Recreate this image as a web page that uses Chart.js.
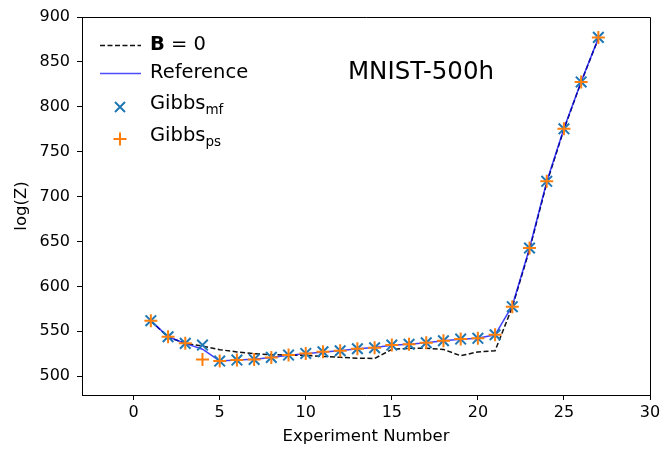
<!DOCTYPE html>
<html>
<head>
<meta charset="utf-8">
<script src="https://cdn.jsdelivr.net/npm/chart.js@4"></script>
<style>
  html, body { margin: 0; padding: 0; background: #fff; }
  canvas { display: block; }
</style>
</head>
<body>
<canvas id="chart" width="672" height="450"></canvas>
<script>
// experiment index on x
const experiments = [1, 2, 3, 4, 5, 6, 7, 8, 9, 10, 11, 12, 13, 14, 15, 16, 17, 18, 19, 20, 21, 22, 23, 24, 25, 26, 27];

const logZZeroB = [561.5, 543.5, 536.5, 533.5, 529.5, 527, 525, 524, 523.5, 523, 522, 521, 520, 519.7, 529.8, 531, 531, 529.8, 522.7, 527, 528.3, 577, 641, 715, 775, 827.5, 876];
const logZRef = [561.8, 543.9, 536.5, 530, 517, 518, 518.8, 520.9, 523.3, 525, 527, 528.3, 530.5, 531.8, 534.5, 535.4, 537.2, 539.4, 541.2, 542.3, 546, 578.5, 642.5, 716.5, 775.8, 828, 876.5];
const logZGibbsMf = [561.8, 543.9, 536.5, 534.6, 516.8, 517.9, 518.6, 520.9, 523.5, 525.3, 527.2, 528.3, 530.5, 531.6, 534.6, 535.4, 537.2, 539.4, 541.3, 542.1, 546.1, 577.4, 642.7, 717, 775.5, 827.7, 877.3];
const logZGibbsPs = [561.8, 543.9, 536.5, 518.6, 516.8, 517.9, 518.6, 520.9, 523.5, 525.3, 527.2, 528.3, 530.5, 531.6, 534.6, 535.4, 537.2, 539.4, 541.3, 542.1, 546.1, 577.4, 642.7, 717, 775.5, 827.7, 877.3];

const xTicks = [0, 5, 10, 15, 20, 25, 30];
const yTicks = [500, 550, 600, 650, 700, 750, 800, 850, 900];

const FONT = "'DejaVu Sans', sans-serif";
const pts = (ys) => experiments.map((x, i) => ({ x: x, y: ys[i] }));

// frame, legend and label drawn on top
const overlay = {
  id: 'overlay',
  afterDraw(chart) {
    const ctx = chart.ctx;
    const a = chart.chartArea;
    ctx.save();
    ctx.strokeStyle = '#000';
    ctx.lineWidth = 1;
    ctx.beginPath();
    ctx.moveTo(a.left, a.top + 0.5);
    ctx.lineTo(a.right + 0.5, a.top + 0.5);
    ctx.lineTo(a.right + 0.5, a.bottom);
    ctx.stroke();

    ctx.fillStyle = '#000';
    ctx.textBaseline = 'middle';
    ctx.textAlign = 'center';
    ctx.font = '24.5px ' + FONT;
    ctx.fillText('MNIST-500h', 421, 73);

    const lx0 = 100, lx1 = 141, tx = 150;
    ctx.textAlign = 'left';

    // row 1: B = 0
    ctx.strokeStyle = '#111';
    ctx.lineWidth = 1.3;
    ctx.setLineDash([5, 2.5]);
    ctx.beginPath();
    ctx.moveTo(lx0, 45.5);
    ctx.lineTo(lx1, 45.5);
    ctx.stroke();
    ctx.setLineDash([]);
    ctx.font = 'bold 19.5px ' + FONT;
    ctx.fillText('B', tx, 45);
    let w = ctx.measureText('B').width;
    ctx.font = '19.5px ' + FONT;
    ctx.fillText(' = 0', tx + w, 45);

    // row 2: Reference
    ctx.strokeStyle = 'rgba(0,0,255,0.7)';
    ctx.beginPath();
    ctx.moveTo(lx0, 73.5);
    ctx.lineTo(lx1, 73.5);
    ctx.stroke();
    ctx.fillText('Reference', tx, 73);

    // row 3: Gibbs mf
    ctx.strokeStyle = '#1f77b4';
    ctx.lineWidth = 2;
    ctx.beginPath();
    ctx.moveTo(115, 102); ctx.lineTo(125, 112);
    ctx.moveTo(125, 102); ctx.lineTo(115, 112);
    ctx.stroke();
    ctx.font = '19.5px ' + FONT;
    ctx.fillText('Gibbs', tx, 104);
    w = ctx.measureText('Gibbs').width;
    ctx.font = '13.5px ' + FONT;
    ctx.fillText('mf', tx + w, 110);

    // row 4: Gibbs ps
    ctx.strokeStyle = '#ff7f0e';
    ctx.beginPath();
    ctx.moveTo(113.5, 139); ctx.lineTo(126.5, 139);
    ctx.moveTo(120, 132.5); ctx.lineTo(120, 145.5);
    ctx.stroke();
    ctx.font = '19.5px ' + FONT;
    ctx.fillText('Gibbs', tx, 136);
    ctx.font = '13.5px ' + FONT;
    ctx.fillText('ps', tx + w, 142);
    ctx.restore();
  }
};

new Chart(document.getElementById('chart'), {
  type: 'scatter',
  data: {
    datasets: [
      {
        label: 'Gibbs ps',
        data: pts(logZGibbsPs),
        showLine: false,
        pointStyle: 'cross',
        pointRadius: 6.5,
        pointBorderWidth: 2,
        borderColor: '#ff7f0e',
        backgroundColor: '#ff7f0e',
        order: 0
      },
      {
        label: 'Gibbs mf',
        data: pts(logZGibbsMf),
        showLine: false,
        pointStyle: 'crossRot',
        pointRadius: 7.5,
        pointBorderWidth: 2,
        borderColor: '#1f77b4',
        backgroundColor: '#1f77b4',
        order: 1
      },
      {
        label: 'Reference',
        data: pts(logZRef),
        showLine: true,
        borderColor: 'rgba(0,0,255,0.75)',
        borderWidth: 1.5,
        pointRadius: 0,
        order: 2
      },
      {
        label: 'B = 0',
        data: pts(logZZeroB),
        showLine: true,
        borderColor: '#111',
        borderWidth: 1.5,
        borderDash: [5, 2.5],
        pointRadius: 0,
        order: 3
      }
    ]
  },
  options: {
    responsive: false,
    animation: false,
    devicePixelRatio: 1,
    layout: { padding: { top: 17, right: 22, left: 0, bottom: 0 } },
    plugins: {
      legend: { display: false },
      tooltip: { enabled: false }
    },
    scales: {
      x: {
        type: 'linear',
        min: -3,
        max: 30,
        afterBuildTicks: (s) => { s.ticks = xTicks.map(v => ({ value: v })); },
        afterFit: (s) => { s.height = 55; },
        border: { display: true, color: '#000', width: 1 },
        grid: { drawOnChartArea: false, drawTicks: true, tickLength: 5, tickColor: '#000', tickWidth: 1 },
        ticks: { color: '#000', font: { family: FONT, size: 16 }, padding: 3, maxRotation: 0 },
        title: { display: true, text: 'Experiment Number', color: '#000', font: { family: FONT, size: 16.5 }, padding: { top: 0, bottom: 3 } }
      },
      y: {
        type: 'linear',
        min: 479,
        max: 900,
        afterBuildTicks: (s) => { s.ticks = yTicks.map(v => ({ value: v })); },
        afterFit: (s) => { s.width = 82; },
        border: { display: true, color: '#000', width: 1 },
        grid: { drawOnChartArea: false, drawTicks: true, tickLength: 5, tickColor: '#000', tickWidth: 1 },
        ticks: { color: '#000', font: { family: FONT, size: 16 }, padding: 7 },
        title: { display: true, text: 'log(Z)', color: '#000', font: { family: FONT, size: 16.5 }, padding: { top: 12, bottom: 0 } }
      }
    }
  },
  plugins: [overlay]
});
</script>
</body>
</html>
